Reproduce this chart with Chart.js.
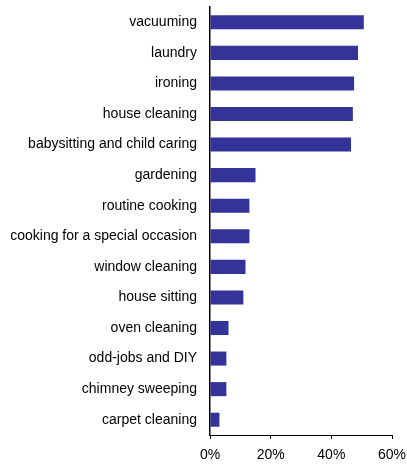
<!DOCTYPE html>
<html>
<head>
<meta charset="utf-8">
<script src="https://cdn.jsdelivr.net/npm/chart.js@4/dist/chart.umd.min.js"></script>
<style>
  html, body { margin: 0; padding: 0; background: #fff; }
  #wrap { width: 407px; height: 466px; }
</style>
</head>
<body>
<div id="wrap"><canvas id="c" width="407" height="466"></canvas></div>
<script>
// Share of respondents for each household task (%)
const categories = [
  "vacuuming",
  "laundry",
  "ironing",
  "house cleaning",
  "babysitting and child caring",
  "gardening",
  "routine cooking",
  "cooking for a special occasion",
  "window cleaning",
  "house sitting",
  "oven cleaning",
  "odd-jobs and DIY",
  "chimney sweeping",
  "carpet cleaning"
];
const shares = [50.7, 48.8, 47.5, 47.1, 46.5, 15.0, 13.0, 13.0, 11.7, 11.0, 6.1, 5.4, 5.4, 3.1];
const xTicks = [0, 20, 40, 60];

const font = { family: "'Liberation Sans', Arial, sans-serif", size: 14 };

new Chart(document.getElementById('c'), {
  type: 'bar',
  data: {
    labels: categories,
    datasets: [{
      data: shares,
      backgroundColor: '#333399',
      borderWidth: 0,
      categoryPercentage: 1.0,
      barPercentage: 0.46
    }]
  },
  options: {
    indexAxis: 'y',
    responsive: false,
    animation: false,
    devicePixelRatio: 1,
    layout: { padding: { top: 7, right: 15, bottom: 0, left: 0 } },
    plugins: { legend: { display: false }, tooltip: { enabled: false } },
    scales: {
      x: {
        min: 0,
        max: 60,
        afterBuildTicks: (scale) => { scale.ticks = xTicks.map(v => ({ value: v })); },
        afterFit: (scale) => { scale.height = 31; scale.paddingLeft = 0; scale.paddingRight = 0; },
        grid: {
          drawOnChartArea: false,
          drawTicks: true,
          tickLength: 4,
          color: '#000'
        },
        border: { display: true, color: '#000', width: 1 },
        ticks: {
          color: '#000',
          font: font,
          padding: 8,
          maxRotation: 0,
          callback: (v) => v + '%'
        }
      },
      y: {
        afterFit: (scale) => { scale.width = 210; scale.paddingTop = 0; scale.paddingBottom = 0; },
        grid: { display: false, drawTicks: false },
        border: { display: true, color: '#000', width: 1.5 },
        ticks: {
          color: '#000',
          font: font,
          padding: 13,
          autoSkip: false
        }
      }
    }
  }
});
</script>
</body>
</html>
